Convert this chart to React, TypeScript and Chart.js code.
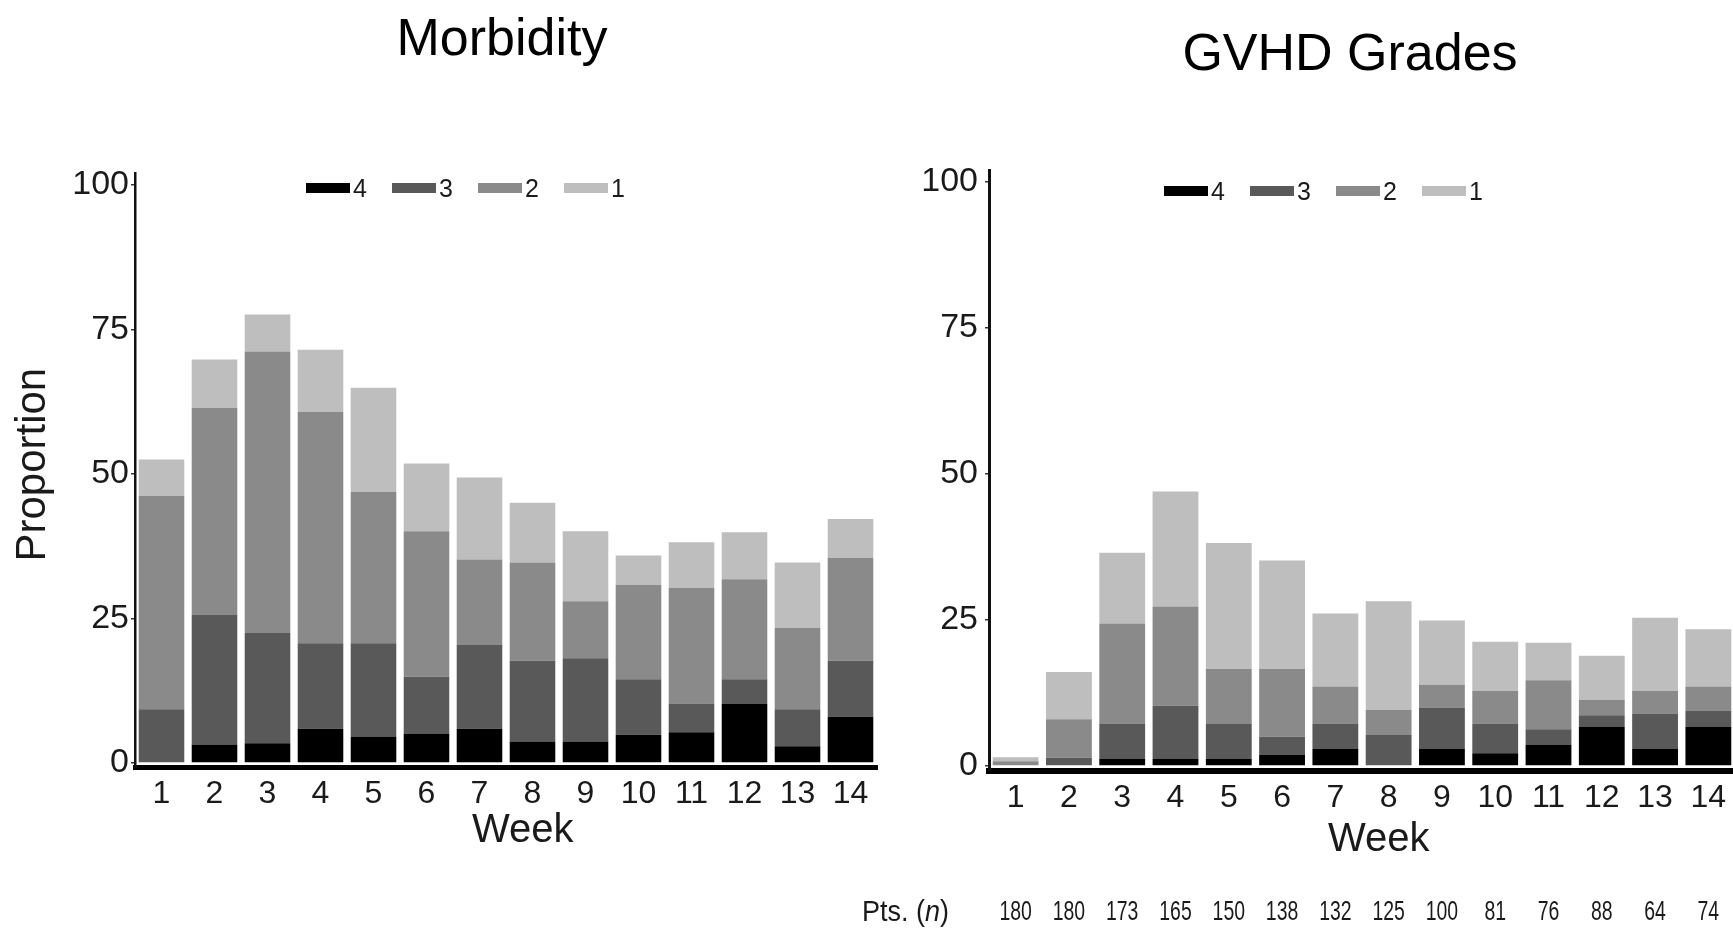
import React, { useEffect, useRef } from "react";
import { Chart, registerables } from "chart.js";

Chart.register(...registerables);

const weeks = ["1", "2", "3", "4", "5", "6", "7", "8", "9", "10", "11", "12", "13", "14"];
const gradeLabels = ["4", "3", "2", "1"];
const gradeColors = ["#000000", "#595959", "#8a8a8a", "#bebebe"];
const yTickValues = [0, 25, 50, 75, 100];

// Morbidity: proportion per grade (stacked, grade 4 at the bottom)
const morbGrade4 = [0, 3.2, 3.4, 5.9, 4.6, 5.0, 5.9, 3.7, 3.7, 4.9, 5.3, 10.2, 2.9, 8.0];
const morbGrade3 = [9.3, 22.5, 19.1, 14.8, 16.1, 9.9, 14.5, 14.0, 14.4, 9.6, 5.0, 4.3, 6.4, 9.7];
const morbGrade2 = [36.9, 35.7, 48.7, 40.0, 26.2, 25.2, 14.8, 17.0, 9.9, 16.3, 20.0, 17.3, 14.1, 17.8];
const morbGrade1 = [6.3, 8.4, 6.4, 10.8, 18.0, 11.7, 14.2, 10.3, 12.1, 5.1, 7.9, 8.1, 11.3, 6.7];

// GVHD grades
const gvhdGrade4 = [0, 0, 1.2, 1.2, 1.2, 1.9, 2.9, 0, 2.9, 2.2, 3.6, 6.7, 2.9, 6.7];
const gvhdGrade3 = [0, 1.4, 6.1, 9.1, 6.0, 3.1, 4.4, 5.3, 7.1, 5.1, 2.7, 2.0, 6.1, 2.8];
const gvhdGrade2 = [0.8, 6.6, 17.1, 17.0, 9.4, 11.6, 6.3, 4.3, 3.9, 5.6, 8.4, 2.6, 3.9, 4.1];
const gvhdGrade1 = [0.7, 8.1, 12.1, 19.7, 21.6, 18.6, 12.5, 18.6, 11.0, 8.4, 6.4, 7.6, 12.5, 9.8];

// Patients at risk per week
const ptsN = [180, 180, 173, 165, 150, 138, 132, 125, 100, 81, 76, 88, 64, 74];

const FONT = '"Liberation Sans", Arial, Helvetica, sans-serif';

type Geo = {
  padTop: number;
  padRight: number;
  yWidth: number;
  xHeight: number;
  yTitle: string | null;
  yBorder: number;
  xBorder: number;
  yTickPad: number;
  xTickPad: number;
  weekPadBottom: number;
  showPts: boolean;
};

function makeChart(canvas: HTMLCanvasElement, series: number[][], geo: Geo) {
  const ptsPlugin = {
    id: "ptsRow",
    afterDraw(chart: any) {
      if (!geo.showPts) return;
      const ctx = chart.ctx as CanvasRenderingContext2D;
      const xs = chart.scales.x;
      const rowY = 913;
      ctx.save();
      ctx.fillStyle = "#1a1a1a";
      ctx.textBaseline = "middle";
      ctx.font = `27px ${FONT}`;
      ptsN.forEach((v, i) => {
        const px = xs.getPixelForTick(i);
        ctx.save();
        ctx.translate(px, rowY);
        ctx.scale(0.72, 1);
        ctx.textAlign = "center";
        ctx.fillText(String(v), 0, 0);
        ctx.restore();
      });
      ctx.translate(12, rowY);
      ctx.scale(0.9, 1);
      ctx.textAlign = "left";
      ctx.font = `30px ${FONT}`;
      let x = 0;
      const a = "Pts. (";
      ctx.fillText(a, x, 0);
      x += ctx.measureText(a).width;
      ctx.font = `italic 30px ${FONT}`;
      ctx.fillText("n", x, 0);
      x += ctx.measureText("n").width;
      ctx.font = `30px ${FONT}`;
      ctx.fillText(")", x, 0);
      ctx.restore();
    },
  };

  return new Chart(canvas, {
    type: "bar",
    data: {
      labels: weeks,
      datasets: series.map((d, i) => ({
        label: gradeLabels[i],
        data: d,
        backgroundColor: gradeColors[i],
        borderWidth: 0,
        barPercentage: 0.86,
        categoryPercentage: 1,
      })),
    },
    plugins: [ptsPlugin],
    options: {
      animation: false,
      responsive: false,
      devicePixelRatio: 1,
      layout: { padding: { top: geo.padTop, right: geo.padRight, left: 0, bottom: 0 } },
      plugins: {
        legend: { display: false },
        tooltip: { enabled: false },
        title: { display: false },
      },
      scales: {
        x: {
          stacked: true,
          offset: true,
          grid: { display: false, drawTicks: false },
          border: { display: true, color: "#000", width: geo.xBorder },
          ticks: {
            color: "#1a1a1a",
            font: { family: FONT, size: 32 },
            padding: geo.xTickPad,
            maxRotation: 0,
            autoSkip: false,
          },
          title: {
            display: true,
            text: "\u00a0\u00a0\u00a0Week",
            color: "#1a1a1a",
            font: { family: FONT, size: 40 },
            padding: { top: 0, bottom: geo.weekPadBottom },
          },
          afterFit(scale: any) {
            scale.height = geo.xHeight;
          },
        },
        y: {
          stacked: true,
          min: -0.8,
          max: 102,
          grid: {
            display: true,
            drawOnChartArea: false,
            drawTicks: true,
            tickLength: 4,
            color: "#333",
            lineWidth: 1.5,
          },
          border: { display: true, color: "#111", width: geo.yBorder },
          ticks: {
            color: "#1a1a1a",
            font: { family: FONT, size: 34 },
            padding: geo.yTickPad,
          },
          afterBuildTicks(scale: any) {
            scale.ticks = yTickValues.map((v) => ({ value: v }));
          },
          title: {
            display: !!geo.yTitle,
            text: geo.yTitle || "",
            color: "#1a1a1a",
            font: { family: FONT, size: 42 },
            padding: { top: 8, bottom: 0 },
          },
          afterFit(scale: any) {
            scale.width = geo.yWidth;
          },
        },
      },
    } as any,
  });
}

function Legend({ left, top }: { left: number; top: number }) {
  return (
    <div
      style={{
        position: "absolute",
        left,
        top,
        height: 30,
        display: "flex",
        alignItems: "center",
        fontFamily: FONT,
        fontSize: 25,
        color: "#1a1a1a",
      }}
    >
      {gradeLabels.map((g, i) => (
        <div key={g} style={{ width: 86, display: "flex", alignItems: "center" }}>
          <div style={{ width: 44, height: 10, background: gradeColors[i], marginRight: 3 }} />
          <span style={{ lineHeight: "30px" }}>{g}</span>
        </div>
      ))}
    </div>
  );
}

export default function App() {
  const leftRef = useRef<HTMLCanvasElement>(null);
  const rightRef = useRef<HTMLCanvasElement>(null);

  useEffect(() => {
    const c1 = makeChart(leftRef.current!, [morbGrade4, morbGrade3, morbGrade2, morbGrade1], {
      padTop: 173.4,
      padRight: 3,
      yWidth: 135,
      xHeight: 931 - 767.6,
      yTitle: "\u00a0Proportion",
      yBorder: 2.5,
      xBorder: 5,
      yTickPad: 2,
      xTickPad: 7,
      weekPadBottom: 76,
      showPts: false,
    });
    const c2 = makeChart(rightRef.current!, [gvhdGrade4, gvhdGrade3, gvhdGrade2, gvhdGrade1], {
      padTop: 170.3,
      padRight: 25,
      yWidth: 139,
      xHeight: 931 - 770.7,
      yTitle: null,
      yBorder: 3,
      xBorder: 6,
      yTickPad: 7,
      xTickPad: 8,
      weekPadBottom: 67,
      showPts: true,
    });
    return () => {
      c1.destroy();
      c2.destroy();
    };
  }, []);

  return (
    <div
      style={{
        position: "absolute",
        left: 0,
        top: 0,
        width: 1733,
        height: 931,
        overflow: "hidden",
        background: "#fff",
      }}
    >
      <canvas ref={leftRef} width={880} height={931} style={{ position: "absolute", left: 0, top: 0 }} />
      <canvas ref={rightRef} width={910} height={931} style={{ position: "absolute", left: 850, top: 0 }} />
      <div
        style={{
          position: "absolute",
          left: 502,
          top: 11,
          transform: "translateX(-50%)",
          fontFamily: FONT,
          fontSize: 52,
          lineHeight: "52px",
          whiteSpace: "nowrap",
          color: "#000",
        }}
      >
        Morbidity
      </div>
      <div
        style={{
          position: "absolute",
          left: 1350,
          top: 26,
          transform: "translateX(-50%)",
          fontFamily: FONT,
          fontSize: 52,
          lineHeight: "52px",
          whiteSpace: "nowrap",
          color: "#000",
        }}
      >
        GVHD Grades
      </div>
      <Legend left={306} top={173} />
      <Legend left={1164} top={176} />
    </div>
  );
}
